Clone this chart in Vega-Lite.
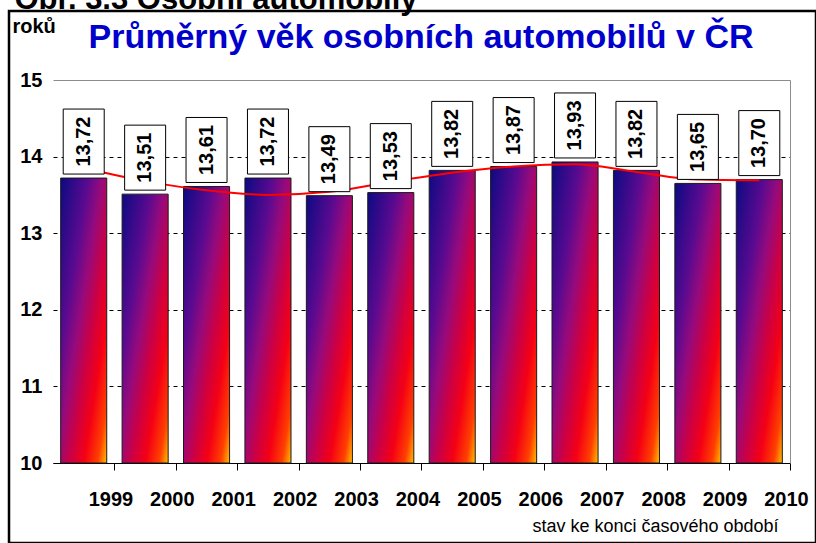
{
  "$schema": "https://vega.github.io/schema/vega-lite/v6.json",
  "width": 807,
  "height": 532,
  "autosize": {"type": "none"},
  "padding": {"left": 9, "top": 11, "right": 0, "bottom": 0},
  "background": "white",
  "config": {
    "locale": {"number": {"decimal": ",", "thousands": " ", "grouping": [3], "currency": ["", " Kč"]}},
    "view": {"stroke": "black", "strokeWidth": 2.5},
    "font": "Liberation Sans"
  },
  "data": {
    "values": [
      {"year": "1999", "value": 13.72, "trend": 13.85},
      {"year": "2000", "value": 13.51, "trend": 13.68},
      {"year": "2001", "value": 13.61, "trend": 13.56},
      {"year": "2002", "value": 13.72, "trend": 13.50},
      {"year": "2003", "value": 13.49, "trend": 13.54},
      {"year": "2004", "value": 13.53, "trend": 13.67},
      {"year": "2005", "value": 13.82, "trend": 13.79},
      {"year": "2006", "value": 13.87, "trend": 13.87},
      {"year": "2007", "value": 13.93, "trend": 13.90},
      {"year": "2008", "value": 13.82, "trend": 13.80},
      {"year": "2009", "value": 13.65, "trend": 13.70},
      {"year": "2010", "value": 13.70, "trend": 13.69}
    ]
  },
  "layer": [
    {
      "encoding": {
        "x": {
          "field": "year",
          "type": "nominal",
          "sort": null,
          "scale": {"range": [44, 781], "paddingInner": 0.25, "paddingOuter": 0.125},
          "axis": {
            "orient": "bottom",
            "offset": -80,
            "grid": false,
            "domain": true,
            "domainColor": "black",
            "domainWidth": 1,
            "ticks": true,
            "tickColor": "black",
            "tickSize": 7,
            "tickOffset": 30.7,
            "labelAngle": 0,
            "labelFont": "Liberation Sans",
            "labelFontSize": 20,
            "labelFontWeight": "bold",
            "labelColor": "black",
            "labelPadding": 19,
            "labelOffset": -4,
            "title": "stav ke konci časového období",
            "titleX": 646,
            "titleY": 68,
            "titleAlign": "center",
            "titleBaseline": "alphabetic",
            "titleFont": "Liberation Sans",
            "titleFontSize": 18,
            "titleFontWeight": "normal",
            "titleColor": "black"
          }
        }
      },
      "layer": [
        {
          "mark": {
            "type": "bar",
            "fill": {
              "gradient": "linear",
              "x1": 0, "y1": 0, "x2": 1, "y2": 1,
              "stops": [
                {"offset": 0, "color": "#0c0a82"},
                {"offset": 0.3, "color": "#5a0a90"},
                {"offset": 0.45, "color": "#960a7c"},
                {"offset": 0.6, "color": "#cc0044"},
                {"offset": 0.75, "color": "#f50015"},
                {"offset": 0.9, "color": "#ff4000"},
                {"offset": 1, "color": "#ffc000"}
              ]
            },
            "stroke": "#1a1a1a",
            "strokeWidth": 1
          },
          "encoding": {
            "y": {
              "field": "value",
              "type": "quantitative",
              "scale": {"domain": [10, 15], "range": [452, 69], "nice": false, "zero": false},
              "axis": {
                "orient": "left",
                "offset": -44,
                "values": [10, 11, 12, 13, 14, 15],
                "format": "d",
                "domain": false,
                "ticks": false,
                "tickSize": 0,
                "labelPadding": 11,
                "labelFont": "Liberation Sans",
                "labelFontSize": 20,
                "labelFontWeight": "bold",
                "labelColor": "black",
                "grid": true,
                "gridColor": {"condition": {"test": "datum.value == 15", "value": "#8c8c8c"}, "value": "black"},
                "gridDash": {"condition": {"test": "datum.value == 15", "value": []}, "value": [4, 4]},
                "gridWidth": 1,
                "gridOpacity": 1,
                "title": "roků",
                "titleAngle": 0,
                "titleAlign": "left",
                "titleBaseline": "alphabetic",
                "titleX": -41,
                "titleY": 21,
                "titleFont": "Liberation Sans",
                "titleFontSize": 20,
                "titleFontWeight": "bold",
                "titleColor": "black"
              }
            },
            "y2": {"datum": 10}
          }
        },
        {
          "mark": {"type": "line", "color": "#ff0000", "strokeWidth": 2, "interpolate": "monotone"},
          "encoding": {
            "y": {"field": "trend", "type": "quantitative"}
          }
        },
        {
          "mark": {"type": "bar", "fill": "white", "stroke": "black", "strokeWidth": 1, "width": 41, "yOffset": -4, "y2Offset": -69},
          "encoding": {
            "y": {"field": "value", "type": "quantitative"},
            "y2": {"field": "value"}
          }
        }
      ]
    },
    {
      "mark": {
        "type": "text",
        "angle": 270,
        "align": "center",
        "baseline": "middle",
        "yOffset": -36.5,
        "font": "Liberation Sans",
        "fontSize": 20,
        "fontWeight": "bold",
        "color": "black"
      },
      "encoding": {
        "x": {
          "field": "year",
          "type": "nominal",
          "sort": null,
          "axis": {
            "orient": "top",
            "offset": 0,
            "domain": false,
            "ticks": false,
            "labels": false,
            "grid": false,
            "title": "Obr. 3.3 Osobní automobily",
            "titleX": 5,
            "titleY": -3,
            "titleAngle": 0,
            "titleAlign": "left",
            "titleBaseline": "alphabetic",
            "titleFont": "Liberation Sans",
            "titleFontSize": 31,
            "titleFontWeight": "bold",
            "titleColor": "black"
          }
        },
        "y": {
          "field": "value",
          "type": "quantitative",
          "axis": {
            "orient": "right",
            "offset": -26,
            "domain": true,
            "domainColor": "#8c8c8c",
            "domainWidth": 1,
            "labels": false,
            "ticks": false,
            "grid": false,
            "title": "Průměrný věk osobních automobilů v ČR",
            "titleAngle": 0,
            "titleAlign": "left",
            "titleBaseline": "alphabetic",
            "titleX": -702,
            "titleY": 36,
            "titleFont": "Liberation Sans",
            "titleFontSize": 34,
            "titleFontWeight": "bold",
            "titleColor": "#0000cc"
          }
        },
        "text": {"field": "value", "type": "quantitative", "format": ".2f"}
      }
    }
  ],
  "resolve": {"axis": {"x": "independent", "y": "independent"}}
}
